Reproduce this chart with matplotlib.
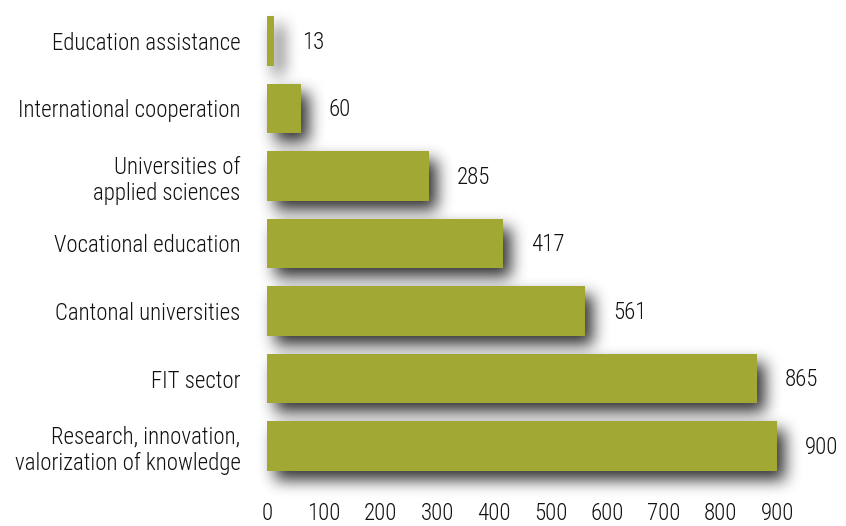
import matplotlib
matplotlib.use("Agg")
import matplotlib.pyplot as plt
from matplotlib import font_manager
import numpy as np

categories = [
    "Research, innovation,\nvalorization of knowledge",
    "FIT sector",
    "Cantonal universities",
    "Vocational education",
    "Universities of\napplied sciences",
    "International cooperation",
    "Education assistance",
]
values = [900, 865, 561, 417, 285, 60, 13]
xticks = [0, 100, 200, 300, 400, 500, 600, 700, 800, 900]

# pick the narrowest available family
cands = ["Liberation Sans Narrow", "Roboto Condensed", "Open Sans Condensed",
         "Roboto", "Open Sans"]
FONT = "DejaVu Sans"
for c in cands:
    try:
        font_manager.findfont(c, fallback_to_default=False)
        FONT = c
        break
    except Exception:
        continue
plt.rcParams["font.family"] = [FONT, "DejaVu Sans"]
plt.rcParams["font.weight"] = "light"

BAR = "#a1a834"
TXT = "#111111"
W, H = 846, 526

fig = plt.figure(figsize=(W / 100, H / 100), dpi=100)
renderer = fig.canvas.get_renderer()

# fit font size so the label width matches the reference (~188 px)
probe = fig.text(0, 0, "Education assistance", fontsize=16)
wpx = probe.get_window_extent(renderer).width
probe.remove()
FS = min(17.5, 16 * 189.0 / wpx)

ax = fig.add_axes([267 / W, 1 - 486.5 / H, 567 / W, 486 / H])

y = np.arange(len(categories))
h = 0.74

ax.barh(y, values, height=h, color=BAR, zorder=3, linewidth=0)

for yi, v in zip(y, values):
    ax.annotate(str(v), xy=(v, yi), xytext=(20, -1), textcoords="offset points",
                va="center", ha="left", fontsize=FS, color=TXT, zorder=4)

ax.set_xlim(0, 1000)
ax.set_ylim(-0.6, 6.6)
ax.set_xticks(xticks)
ax.set_xticklabels([str(t) for t in xticks])
ax.set_yticks(y)
ax.set_yticklabels(categories)
ax.tick_params(axis="x", length=0, pad=11, labelsize=FS, labelcolor=TXT)
ax.tick_params(axis="y", length=0, pad=19, labelsize=FS, labelcolor=TXT)
for s in ax.spines.values():
    s.set_visible(False)
ax.set_facecolor("none")

# soft blurred drop shadow computed from the bars' pixel boxes
mask = np.zeros((H, W))
dx, dy = 8, 9
for yi, v in zip(y, values):
    (x0, y0) = ax.transData.transform((0, yi - h / 2))
    (x1, y1) = ax.transData.transform((v, yi + h / 2))
    c0, c1 = int(round(x0)) + dx, int(round(x1)) + dx
    r0, r1 = H - int(round(y1)) + dy, H - int(round(y0)) + dy
    mask[max(r0, 0):min(r1, H), max(c0, 0):min(c1, W)] = 1.0


def box(a, r, axis):
    a = np.moveaxis(a, axis, 0)
    p = np.pad(a, ((r + 1, r), (0, 0)))
    cs = np.cumsum(p, axis=0)
    out = (cs[2 * r + 1:] - cs[:-2 * r - 1]) / (2 * r + 1)
    return np.moveaxis(out, 0, axis)


blur = mask
for _ in range(3):
    blur = box(box(blur, 7, 0), 7, 1)

rgba = np.zeros((H, W, 4))
rgba[..., :3] = 0.15
rgba[..., 3] = np.clip(blur * 0.95, 0, 1)
fig.figimage(rgba, xo=0, yo=0, origin="upper", zorder=-1)

fig.savefig("out.png", dpi=100, facecolor="white")
